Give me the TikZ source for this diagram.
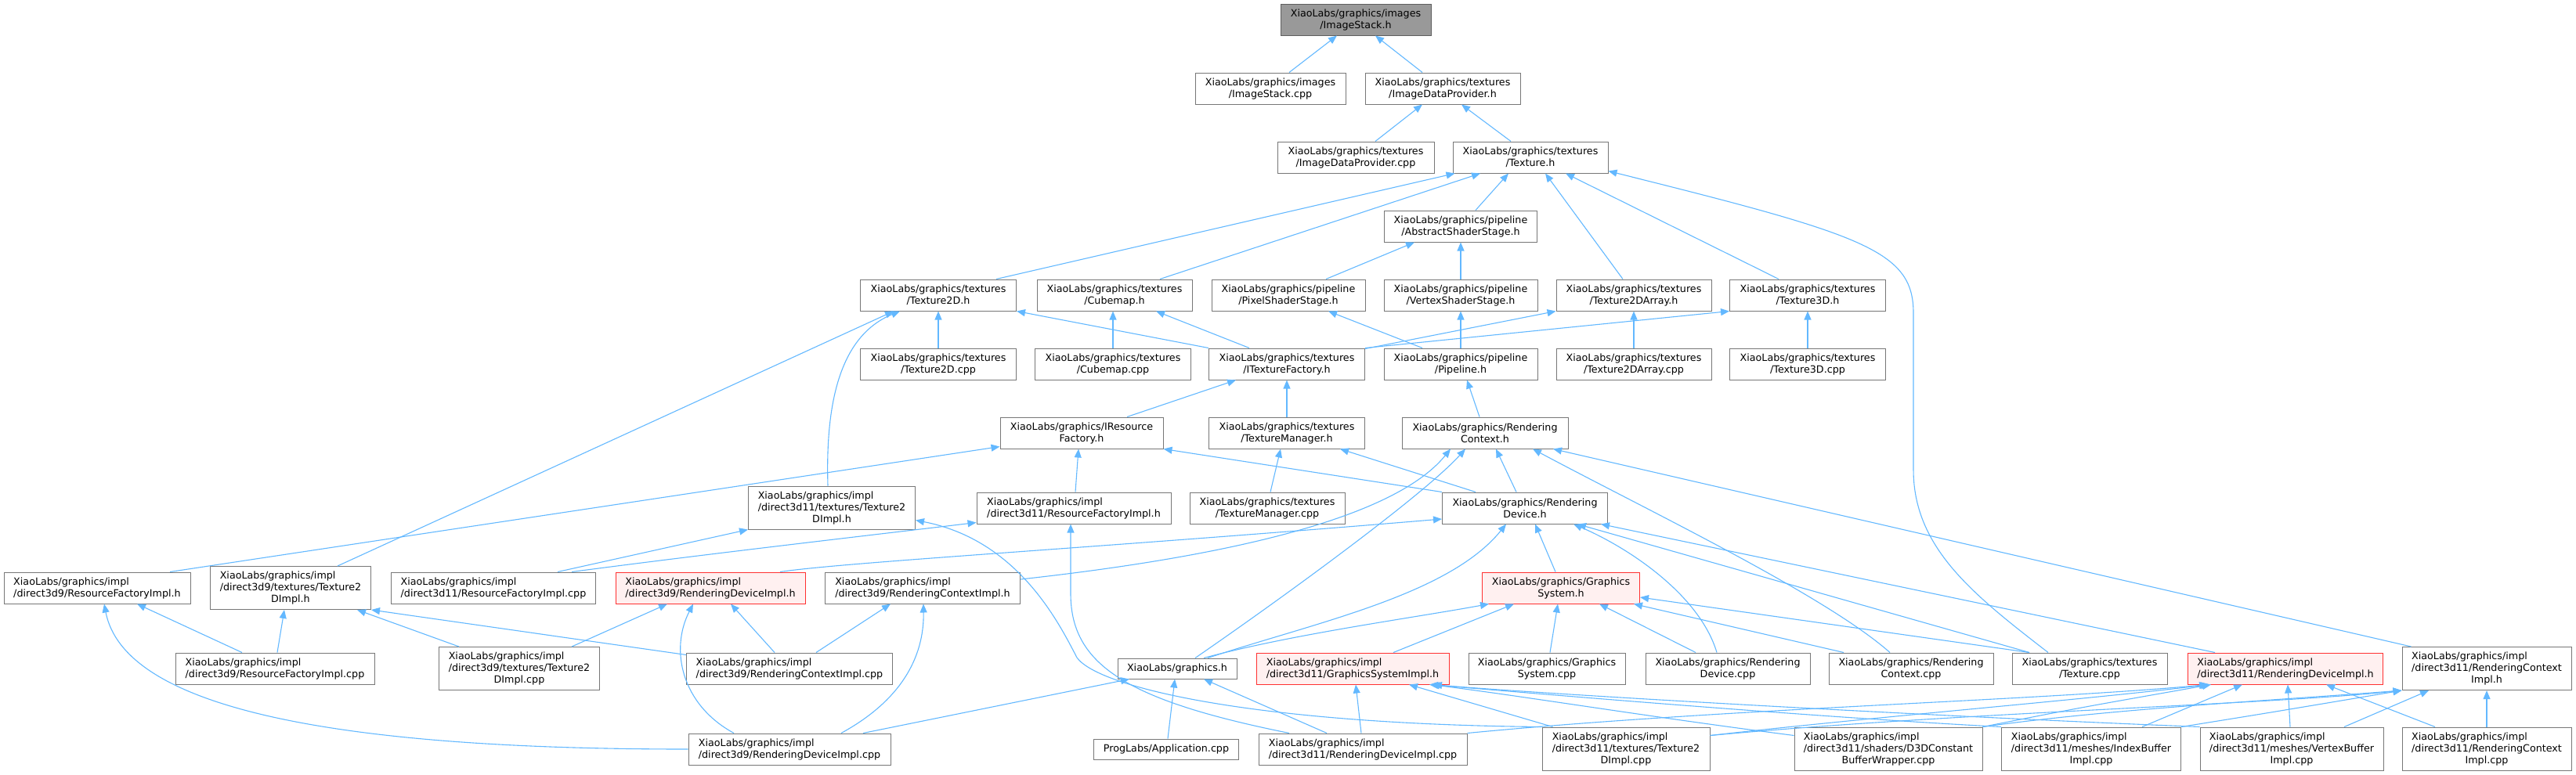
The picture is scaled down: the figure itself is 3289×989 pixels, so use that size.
\documentclass[tikz,border=0pt]{standalone}
\usepackage{fontspec}
\setmainfont{DejaVu Sans}
\usetikzlibrary{arrows.meta}
\definecolor{edgeblue}{HTML}{63B8FF}
\definecolor{nodeborder}{HTML}{777777}
\definecolor{rootfill}{HTML}{999999}
\definecolor{redfill}{HTML}{FFF0F0}
\definecolor{redline}{HTML}{FF3030}
\newcommand{\lftb}[2]{\begin{tabular}[b]{@{}l@{}}#1\\#2\end{tabular}}
\begin{document}
\begin{tikzpicture}[x=1pt,y=-1pt,
  every node/.style={font=\fontsize{12.7}{15}\selectfont},
  fnode/.style={draw=nodeborder, line width=1pt, fill=white, rectangle, inner sep=3pt, align=center, minimum height=40pt},
  lnode/.style={fnode, align=left},
  redc/.style={draw=redline, fill=redfill},
  tall/.style={minimum height=55pt},
  short/.style={minimum height=26pt},
  edge/.style={draw=edgeblue, line width=1.1pt, -{Triangle[length=11pt,width=9pt]}},
]
\useasboundingbox (0,0) rectangle (3289,989);
% nodes
\node[fnode, fill=rootfill, draw=nodeborder!80!black, minimum width=192pt] (root) at (1731,25) {XiaoLabs/graphics/images\\/ImageStack.h};
\node[fnode, minimum width=192pt] (isc) at (1622,113) {XiaoLabs/graphics/images\\/ImageStack.cpp};
\node[fnode, minimum width=198pt] (idph) at (1842,113) {XiaoLabs/graphics/textures\\/ImageDataProvider.h};
\node[fnode, minimum width=200pt] (idpc) at (1731,201) {XiaoLabs/graphics/textures\\/ImageDataProvider.cpp};
\node[fnode, minimum width=198pt] (texh) at (1954,201) {XiaoLabs/graphics/textures\\/Texture.h};
\node[fnode, minimum width=195pt] (ass) at (1865,289) {XiaoLabs/graphics/pipeline\\/AbstractShaderStage.h};
\node[fnode, minimum width=199pt] (t2d) at (1198,377) {XiaoLabs/graphics/textures\\/Texture2D.h};
\node[fnode, minimum width=198pt] (cub) at (1423,377) {XiaoLabs/graphics/textures\\/Cubemap.h};
\node[fnode, minimum width=196pt] (pss) at (1645,377) {XiaoLabs/graphics/pipeline\\/PixelShaderStage.h};
\node[fnode, minimum width=196pt] (vss) at (1865,377) {XiaoLabs/graphics/pipeline\\/VertexShaderStage.h};
\node[fnode, minimum width=198pt] (t2da) at (2086,377) {XiaoLabs/graphics/textures\\/Texture2DArray.h};
\node[fnode, minimum width=199pt] (t3d) at (2308,377) {XiaoLabs/graphics/textures\\/Texture3D.h};
\node[fnode, minimum width=199pt] (t2dc) at (1198,465) {XiaoLabs/graphics/textures\\/Texture2D.cpp};
\node[fnode, minimum width=199pt] (cubc) at (1421,465) {XiaoLabs/graphics/textures\\/Cubemap.cpp};
\node[fnode, minimum width=199pt] (itf) at (1643,465) {XiaoLabs/graphics/textures\\/ITextureFactory.h};
\node[fnode, minimum width=196pt] (pip) at (1865,465) {XiaoLabs/graphics/pipeline\\/Pipeline.h};
\node[fnode, minimum width=198pt] (t2dac) at (2086,465) {XiaoLabs/graphics/textures\\/Texture2DArray.cpp};
\node[fnode, minimum width=199pt] (t3dc) at (2308,465) {XiaoLabs/graphics/textures\\/Texture3D.cpp};
\node[fnode, minimum width=208pt] (irf) at (1381,553) {XiaoLabs/graphics/IResource\\Factory.h};
\node[fnode, minimum width=199pt] (tm) at (1643,553) {XiaoLabs/graphics/textures\\/TextureManager.h};
\node[fnode, minimum width=212pt] (rc) at (1896,553) {XiaoLabs/graphics/Rendering\\Context.h};
\node[fnode, tall, minimum width=213pt] (d11t2d) at (1062,648.5) {\lftb{XiaoLabs/graphics/impl}{/direct3d11/textures/Texture2}\\DImpl.h};
\node[lnode, minimum width=248pt] (d11rf) at (1371,649) {XiaoLabs/graphics/impl\\/direct3d11/ResourceFactoryImpl.h};
\node[fnode, minimum width=198pt] (tmc) at (1618,649) {XiaoLabs/graphics/textures\\/TextureManager.cpp};
\node[fnode, minimum width=211pt] (rd) at (1947,649) {XiaoLabs/graphics/Rendering\\Device.h};
\node[lnode, minimum width=238pt] (d9rf) at (124,751) {XiaoLabs/graphics/impl\\/direct3d9/ResourceFactoryImpl.h};
\node[fnode, tall, minimum width=205pt] (d9t2d) at (371,751) {\lftb{XiaoLabs/graphics/impl}{/direct3d9/textures/Texture2}\\DImpl.h};
\node[lnode, minimum width=261pt] (d11rfc) at (630,751) {XiaoLabs/graphics/impl\\/direct3d11/ResourceFactoryImpl.cpp};
\node[lnode, redc, minimum width=242pt] (d9rd) at (907,751) {XiaoLabs/graphics/impl\\/direct3d9/RenderingDeviceImpl.h};
\node[lnode, minimum width=249pt] (d9rc) at (1178,751) {XiaoLabs/graphics/impl\\/direct3d9/RenderingContextImpl.h};
\node[fnode, redc, minimum width=201pt] (gs) at (1993,751) {XiaoLabs/graphics/Graphics\\System.h};
\node[lnode, minimum width=254pt] (d9rfc) at (351,854) {XiaoLabs/graphics/impl\\/direct3d9/ResourceFactoryImpl.cpp};
\node[fnode, tall, minimum width=205pt] (d9t2dc) at (663,854) {\lftb{XiaoLabs/graphics/impl}{/direct3d9/textures/Texture2}\\DImpl.cpp};
\node[lnode, minimum width=263pt] (d9rcc) at (1008,854) {XiaoLabs/graphics/impl\\/direct3d9/RenderingContextImpl.cpp};
\node[fnode, short, minimum width=152pt] (gh) at (1503,854) {XiaoLabs/graphics.h};
\node[lnode, redc, minimum width=246pt] (d11gs) at (1727,854) {XiaoLabs/graphics/impl\\/direct3d11/GraphicsSystemImpl.h};
\node[fnode, minimum width=200pt] (gsc) at (1975,854) {XiaoLabs/graphics/Graphics\\System.cpp};
\node[fnode, minimum width=210pt] (rdc) at (2206,854) {XiaoLabs/graphics/Rendering\\Device.cpp};
\node[fnode, minimum width=210pt] (rcc) at (2440,854) {XiaoLabs/graphics/Rendering\\Context.cpp};
\node[fnode, minimum width=198pt] (texc) at (2668,854) {XiaoLabs/graphics/textures\\/Texture.cpp};
\node[lnode, redc, minimum width=249pt] (d11rd) at (2918,854) {XiaoLabs/graphics/impl\\/direct3d11/RenderingDeviceImpl.h};
\node[fnode, tall, minimum width=216pt] (d11rc) at (3175,854) {\lftb{XiaoLabs/graphics/impl}{/direct3d11/RenderingContext}\\Impl.h};
\node[lnode, minimum width=258pt] (d9rdc) at (1008,957) {XiaoLabs/graphics/impl\\/direct3d9/RenderingDeviceImpl.cpp};
\node[fnode, short, minimum width=185pt] (app) at (1489,957) {ProgLabs/Application.cpp};
\node[lnode, minimum width=266pt] (d11rdc) at (1740,957) {XiaoLabs/graphics/impl\\/direct3d11/RenderingDeviceImpl.cpp};
\node[fnode, tall, minimum width=214pt] (d11t2dc) at (2076,956.5) {\lftb{XiaoLabs/graphics/impl}{/direct3d11/textures/Texture2}\\DImpl.cpp};
\node[fnode, tall, minimum width=240pt] (d3dc) at (2411,956.5) {\lftb{XiaoLabs/graphics/impl}{/direct3d11/shaders/D3DConstant}\\BufferWrapper.cpp};
\node[fnode, tall, minimum width=229pt] (ibc) at (2670,956.5) {\lftb{XiaoLabs/graphics/impl}{/direct3d11/meshes/IndexBuffer}\\Impl.cpp};
\node[fnode, tall, minimum width=234pt] (vbc) at (2926,956.5) {\lftb{XiaoLabs/graphics/impl}{/direct3d11/meshes/VertexBuffer}\\Impl.cpp};
\node[fnode, tall, minimum width=216pt] (d11rcc) at (3175,956.5) {\lftb{XiaoLabs/graphics/impl}{/direct3d11/RenderingContext}\\Impl.cpp};
% edges
\draw[edge] ([xshift=24pt]isc.north) -- ([xshift=-24pt]root.south);
\draw[edge] ([xshift=-26pt]idph.north) -- ([xshift=25pt]root.south);
\draw[edge] ([xshift=25pt]idpc.north) -- ([xshift=-26pt]idph.south);
\draw[edge] ([xshift=-25pt]texh.north) -- ([xshift=24pt]idph.south);
\draw[edge] ([xshift=74pt]t2d.north) -- ([xshift=3pt]texh.south west);
\draw[edge] ([xshift=58pt]cub.north) -- ([xshift=-64pt]texh.south);
\draw[edge] ([xshift=19pt]ass.north) -- ([xshift=-28pt]texh.south);
\draw[edge] ([xshift=-14pt]t2da.north) -- ([xshift=19pt]texh.south);
\draw[edge] ([xshift=-37pt]t3d.north) -- ([xshift=45pt]texh.south);
\draw[edge] ([xshift=-53pt]texc.north) .. controls (2520,760) and (2443,700) .. (2443,600) -- (2443,400) .. controls (2443,320) and (2380,300) .. ([yshift=3pt]texh.south east);
\draw[edge] ([xshift=48pt]pss.north) -- ([xshift=-59pt]ass.south);
\draw[edge] (vss.north) -- (ass.south);
\draw[edge] (t2dc.north) -- (t2d.south);
\draw[edge] (itf.north west) -- (t2d.south east);
\draw[edge] ([xshift=60pt]d9t2d.north) -- ([xshift=-57pt]t2d.south);
\draw[edge] ([xshift=-5pt]d11t2d.north) .. controls (1054,520) and (1070,430) .. ([xshift=-49pt]t2d.south);
\draw[edge] (cubc.north) -- ([xshift=-2pt]cub.south);
\draw[edge] ([xshift=-48pt]itf.north) -- ([xshift=53pt]cub.south);
\draw[edge] ([xshift=-49pt]pip.north) -- ([xshift=51pt]pss.south);
\draw[edge] (pip.north) -- (vss.south);
\draw[edge] (t2dac.north) -- (t2da.south);
\draw[edge] ([yshift=-1pt]itf.north east) -- (t2da.south west);
\draw[edge] (t3dc.north) -- (t3d.south);
\draw[edge] (itf.north east) -- (t3d.south west);
\draw[edge] ([xshift=58pt]irf.north) -- ([xshift=-65pt]itf.south);
\draw[edge] (tm.north) -- (itf.south);
\draw[edge] ([xshift=-7pt]rc.north) -- ([xshift=8pt]pip.south);
\draw[edge] ([xshift=93pt]d9rf.north) -- ([yshift=3pt]irf.south west);
\draw[edge] ([xshift=2pt]d11rf.north) -- ([xshift=-4pt]irf.south);
\draw[edge] (rd.north west) -- (irf.south east);
\draw[edge] ([xshift=4pt]tmc.north) -- ([xshift=-8pt]tm.south);
\draw[edge] ([xshift=-63pt]rd.north) -- ([xshift=68pt]tm.south);
\draw[edge] ([xshift=-11pt]rd.north) -- ([xshift=14pt]rc.south);
\draw[edge] ([yshift=11pt]d9rc.east) .. controls (1620,705) and (1790,650) .. ([xshift=-44pt]rc.south);
\draw[edge] ([xshift=23pt]gh.north) .. controls (1650,755) and (1820,630) .. ([xshift=-25pt]rc.south);
\draw[edge] ([xshift=-27pt]rcc.north) .. controls (2330,760) and (2100,650) .. ([xshift=61pt]rc.south);
\draw[edge] ([xshift=12pt]d11rc.north west) -- ([xshift=87pt]rc.south);
\draw[edge] ([xshift=89pt]d9rd.north) .. controls (1080,718) and (1400,700) .. ([yshift=-14pt]rd.west);
\draw[edge] ([xshift=39pt]gh.north) .. controls (1680,795) and (1850,760) .. ([xshift=-24pt]rd.south);
\draw[edge] ([xshift=-7pt]gs.north) -- ([xshift=13pt]rd.south);
\draw[edge] ([xshift=-14pt]rdc.north) .. controls (2170,760) and (2080,700) .. ([xshift=62pt]rd.south);
\draw[edge] ([xshift=-77pt]texc.north) -- ([xshift=67pt]rd.south);
\draw[edge] ([xshift=-90pt]d11rd.north) -- ([xshift=-9pt]rd.south east);
\draw[edge] (d11t2dc.north west) .. controls (1600,925) and (1402,878) .. (1375,840) .. controls (1352,796) and (1300,690) .. ([yshift=-16pt]d11t2d.east);
\draw[edge] ([xshift=82pt]d11rfc.north) -- (d11t2d.south west);
\draw[edge] ([xshift=100pt]d11rfc.north) .. controls (900,708) and (1100,685) .. ([yshift=2pt]d11rf.south west);
\draw[edge] ([xshift=-94pt]d11rdc.north) .. controls (1440,895) and (1368,850) .. (1367,760) -- ([xshift=-4pt]d11rf.south);
\draw[edge] ([xshift=-42pt]d9rfc.north) -- ([xshift=51pt]d9rf.south);
\draw[edge] (d9rdc.west) .. controls (450,957) and (160,910) .. ([xshift=9pt]d9rf.south);
\draw[edge] ([xshift=3pt]d9rfc.north) -- ([xshift=-8pt]d9t2d.south);
\draw[edge] ([xshift=-77pt]d9t2dc.north) -- ([xshift=85pt]d9t2d.south);
\draw[edge] ([yshift=-3pt]d9rcc.north west) -- (d9t2d.south east);
\draw[edge] ([xshift=67pt]d9t2dc.north) -- ([xshift=-55pt]d9rd.south);
\draw[edge] ([xshift=-19pt]d9rcc.north) -- ([xshift=26pt]d9rd.south);
\draw[edge] ([xshift=-71pt]d9rdc.north) .. controls (870,900) and (855,830) .. ([xshift=-22pt]d9rd.south);
\draw[edge] ([xshift=34pt]d9rcc.north) -- ([xshift=-41pt]d9rc.south);
\draw[edge] ([xshift=66pt]d9rdc.north) .. controls (1150,895) and (1180,840) .. ([xshift=1pt]d9rc.south);
\draw[edge] ([xshift=34pt]gh.north) .. controls (1650,810) and (1800,790) .. ([xshift=-92pt]gs.south);
\draw[edge] ([xshift=52pt]d11gs.north) -- ([xshift=-60pt]gs.south);
\draw[edge] ([xshift=4pt]gsc.north) -- ([xshift=-4pt]gs.south);
\draw[edge] ([xshift=-41pt]rdc.north) -- ([xshift=49pt]gs.south);
\draw[edge] ([xshift=-86pt]rcc.north) -- ([xshift=93pt]gs.south);
\draw[edge] ([xshift=-77pt]texc.north) -- ([yshift=-12pt]gs.east);
\draw[edge] ([xshift=94pt]d9rdc.north) -- ([xshift=-61pt]gh.south);
\draw[edge] ([xshift=2pt]app.north) -- ([xshift=-3pt]gh.south);
\draw[edge] ([xshift=-46pt]d11rdc.north) -- ([xshift=34pt]gh.south);
\draw[edge] ([xshift=-2pt]d11rdc.north) -- ([xshift=4pt]d11gs.south);
\draw[edge] ([xshift=14pt]d11t2dc.north west) -- ([xshift=72pt]d11gs.south);
\draw[edge] ([yshift=17pt]d3dc.west) .. controls (2100,915) and (1950,890) .. ([xshift=100pt]d11gs.south);
\draw[edge] (ibc.north west) .. controls (2300,915) and (1950,885) .. ([xshift=98pt]d11gs.south);
\draw[edge] (vbc.north west) .. controls (2400,912) and (1950,885) .. ([xshift=103pt]d11gs.south);
\draw[edge] (d11rdc.north east) .. controls (2200,905) and (2600,895) .. ([xshift=-99pt]d11rd.south);
\draw[edge] ([yshift=17pt]d11t2dc.east) .. controls (2400,915) and (2650,895) .. ([xshift=-97pt]d11rd.south);
\draw[edge] ([yshift=17pt]d11t2dc.east) .. controls (2500,910) and (2900,900) .. (d11rc.south west);
\draw[edge] (d3dc.north east) .. controls (2650,905) .. ([xshift=-95pt]d11rd.south);
\draw[edge] (d3dc.north east) .. controls (2700,905) and (2900,895) .. (d11rc.south west);
\draw[edge] ([xshift=65pt]ibc.north) -- ([xshift=-55pt]d11rd.south);
\draw[edge] (ibc.north east) .. controls (2900,910) .. (d11rc.south west);
\draw[edge] ([xshift=-2pt]vbc.north) -- ([xshift=3pt]d11rd.south);
\draw[edge] ([xshift=67pt]vbc.north) -- ([xshift=-74pt]d11rc.south);
\draw[edge] ([xshift=-66pt]d11rcc.north) -- ([xshift=52pt]d11rd.south);
\draw[edge] (d11rcc.north) -- (d11rc.south);
\end{tikzpicture}
\end{document}
